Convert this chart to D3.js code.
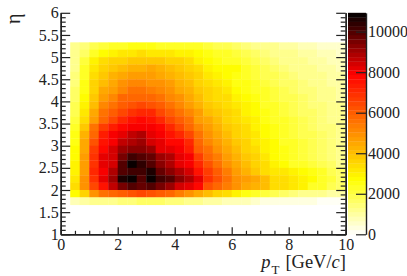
<!DOCTYPE html>
<html>
<head>
<meta charset="utf-8">
<script src="https://d3js.org/d3.v7.min.js"></script>
<style>
html,body { margin:0; background:#fff; }
svg { display:block; }
text { font-family:'Liberation Serif',serif; fill:#222; }
</style>
</head>
<body>
<svg id="chart" width="407" height="276"></svg>
<script>
// counts per bin, top row first (eta 5.33 down to 1.67), pT from 0.33 to 10
var counts = [
[1200,1500,1800,2100,2300,2400,2500,2500,2450,2400,2400,2300,2300,2200,2000,1900,1800,1600,1500,1300,1200,1100,1000,900,800,700,650,600,500],
[1100,1700,2400,2800,3000,3100,3200,3300,3200,3200,3100,3000,2900,2700,2500,2400,2200,2000,1900,1700,1500,1300,1200,1100,1000,900,800,700,650],
[1200,2000,2900,3400,3600,3700,3800,3800,3900,3800,3700,3500,3300,3000,2800,2600,2400,2300,2100,1900,1700,1500,1300,1200,1100,1000,900,800,700],
[1300,2200,3100,3600,3900,4100,4200,4300,4400,4200,4000,3800,3500,3300,3000,2800,2700,2700,2200,2000,1800,1600,1500,1300,1200,1100,1000,900,800],
[1500,2400,3300,3900,4300,4500,4700,4700,4800,4500,4300,4100,3800,3500,3200,3000,2800,2500,2400,2100,1900,1800,1600,1400,1300,1200,1100,1000,900],
[1500,2500,3500,4100,4500,4900,5100,5100,5000,4900,4600,4300,4000,3600,3300,3100,2900,2600,2500,2300,2100,1900,1700,1600,1400,1300,1200,1000,900],
[1600,2600,3700,4400,4800,5200,5500,5500,5400,5200,4900,4500,4200,3900,3500,3400,3100,2800,2600,2400,2200,2000,1800,1700,1500,1400,1200,1100,1000],
[1700,2700,3900,4700,5100,5800,5900,5900,5800,5600,5200,4900,4400,4100,3700,3400,3300,3000,2700,2500,2300,2100,1900,1800,1600,1500,1300,1200,1000],
[1800,2900,4100,5100,5500,6100,6300,6400,6300,6000,5600,5200,4700,4300,3900,3600,3400,3100,2900,2700,2400,2200,2000,1800,1700,1500,1400,1200,1100],
[1900,3100,4400,5500,6000,6500,6800,7100,7000,6500,6000,5500,5100,4600,4100,3900,3600,3300,3000,2800,2500,2300,2100,1900,1700,1600,1400,1300,1100],
[2000,3300,4800,5800,6500,7100,7500,7700,7500,7100,6500,6000,5500,4800,4400,4100,3700,3400,3100,2900,2600,2400,2200,2000,1800,1600,1500,1300,1100],
[2300,3900,5500,6600,7300,7700,7900,8000,7900,7700,7100,6500,5800,5200,4600,4300,3900,3600,3300,3000,2700,2500,2200,2100,1900,1700,1500,1400,1200],
[2500,4200,5900,7300,7900,8100,8700,8800,8300,7900,7600,7000,6400,5500,5000,4500,4100,3700,3400,3100,2800,2600,2300,2100,1900,1800,1600,1400,1200],
[2600,4400,6300,7500,8000,8700,8900,9100,8500,8200,7800,7700,7000,5800,5200,4700,4300,3900,3500,3200,2900,2700,2400,2200,2000,1800,1600,1400,1200],
[2700,4500,6600,7800,8500,9100,9300,9300,9100,8300,8300,7900,7400,6100,5500,4900,4500,4000,3700,3400,3000,2700,2500,2300,2000,1800,1700,1500,1300],
[2800,4600,6800,8100,8500,9500,10100,9900,9700,9100,8900,8200,7900,6600,5700,5300,4700,4200,3800,3500,3100,2800,2600,2300,2100,1900,1700,1500,1300],
[2900,4700,6900,8200,8500,9900,10750,10300,9900,9300,8900,8300,7900,7200,6200,5600,5000,4500,4000,3600,3300,2900,2700,2400,2200,2000,1800,1600,1300],
[3000,4800,7000,7900,8900,9900,10100,10100,10550,9700,9300,8900,8500,7600,6600,6000,5300,4800,4200,3800,3400,3100,3100,2900,2700,2500,2200,1900,1600],
[3100,4900,6800,8100,9000,10500,10730,9900,10730,10100,9900,9300,8900,8100,6900,6300,5600,4900,4600,4400,4000,3400,3300,3100,2900,2700,2400,2000,1700],
[3400,5000,6500,7600,8700,9500,10000,9800,9900,9400,9000,8500,8300,7800,6300,5900,5300,4900,4500,4300,4000,3400,3300,3100,2900,2400,2200,1900,1700],
[2700,3700,5000,5500,5700,6000,6300,6400,6300,6100,5700,5400,5000,4400,4000,3700,3300,2900,2600,2200,2000,1800,1600,1400,1300,1200,1100,1000,900],
[700,900,1100,1200,1300,1400,1500,1700,1700,1600,1500,1400,1300,1200,1000,900,800,700,800,450,400,350,300,280,250,220,200,180,150]
];
var etaTicks = [1,1.5,2,2.5,3,3.5,4,4.5,5,5.5,6];
var ptTicks = [0,2,4,6,8,10];
var zTicks = [0,2000,4000,6000,8000,10000];
var zMax = 10930;
var nBands = 50;
var paletteStops = [0, 2700, 7900, 10930];
var paletteColors = ['#ffffff', '#ffff00', '#ff0000', '#000000'];

var svg = d3.select('#chart');
var x = d3.scaleLinear().domain([0,10]).range([60.7,345.7]);
var y = d3.scaleLinear().domain([1,6]).range([234.3,12.8]);
var z = d3.scaleLinear().domain([0,zMax]).range([234.3,12.8]);
var palette = d3.scaleLinear().domain(paletteStops).range(paletteColors);

// stepped colours like the root palette
function color(v) {
  var k = Math.min(nBands-1, Math.floor(v/zMax*nBands));
  return palette((k+0.5)*zMax/nBands);
}

var binW = 1/3, binH = 1/6, firstCol = 1, topEta = 16/3;

// heat map
var rows = svg.append('g').selectAll('g').data(counts).enter().append('g');
rows.selectAll('rect')
  .data(function(d,i){ return d.map(function(v,j){ return {v:v, i:i, j:j}; }); })
  .enter().append('rect')
  .attr('x', function(d){ return x((d.j+firstCol)*binW); })
  .attr('width', x(binW)-x(0)+0.3)
  .attr('y', function(d){ return y(topEta-d.i*binH); })
  .attr('height', y(0)-y(binH)+0.3)
  .attr('fill', function(d){ return color(d.v); });

// colour bar
var bands = d3.range(nBands);
svg.append('g').selectAll('rect').data(bands).enter().append('rect')
  .attr('x', 348).attr('width', 18)
  .attr('y', function(k){ return z((k+1)*zMax/nBands); })
  .attr('height', z(0)-z(zMax/nBands)+0.3)
  .attr('fill', function(k){ return palette((k+0.5)*zMax/nBands); });

// axes, major and minor go on separately
function minor(lo, hi, step, skip) {
  return d3.range(lo, hi+step/2, step).filter(function(v){
    return Math.abs(v/skip-Math.round(v/skip)) > 1e-6;
  });
}
function style(g) {
  g.selectAll('.tick line').attr('stroke','#222').attr('stroke-width',1.2);
  g.select('.domain').attr('stroke','#222').attr('stroke-width',1.4);
  g.selectAll('text').attr('font-size',16).style('font-family',"'Liberation Serif',serif").attr('fill','#222');
}
svg.append('g').attr('transform','translate(60.7,0)')
  .call(d3.axisLeft(y).tickValues(minor(1,6,0.1,0.5)).tickSizeInner(-5).tickSizeOuter(0).tickFormat('')).call(style);
svg.append('g').attr('transform','translate(60.7,0)')
  .call(d3.axisLeft(y).tickValues(etaTicks).tickSizeInner(-9.5).tickSizeOuter(0).tickPadding(2).tickFormat(function(d){return d;})).call(style);
svg.append('g').attr('transform','translate(345.7,0)')
  .call(d3.axisRight(y).tickValues(minor(1,6,0.1,0.5)).tickSizeInner(-5).tickSizeOuter(0).tickFormat('')).call(style);
svg.append('g').attr('transform','translate(345.7,0)')
  .call(d3.axisRight(y).tickValues(etaTicks).tickSizeInner(-9.5).tickSizeOuter(0).tickFormat('')).call(style);
svg.append('g').attr('transform','translate(0,234.3)')
  .call(d3.axisBottom(x).tickValues(minor(0,10,0.5,2)).tickSizeInner(-3.5).tickSizeOuter(0).tickFormat('')).call(style);
svg.append('g').attr('transform','translate(0,234.3)')
  .call(d3.axisBottom(x).tickValues(ptTicks).tickSizeInner(-7).tickSizeOuter(0).tickPadding(4).tickFormat(function(d){return d;})).call(style);
svg.append('g').attr('transform','translate(366,0)')
  .call(d3.axisRight(z).tickValues(zTicks).tickSizeInner(-10).tickSizeOuter(0).tickPadding(2).tickFormat(function(d){return d;})).call(style);

// titles
var xt = svg.append('text').attr('x',346).attr('y',268).attr('text-anchor','end').attr('font-size',18.5);
xt.append('tspan').attr('font-style','italic').text('p');
xt.append('tspan').attr('font-size',13).attr('dy',6).attr('dx',1).text('T');
xt.append('tspan').attr('dy',-6).attr('dx',6).text('[GeV/');
xt.append('tspan').attr('font-style','italic').text('c');
xt.append('tspan').text(']');
svg.append('text').attr('transform','translate(20,24) rotate(-90)').attr('font-size',20).text('η');
</script>
</body>
</html>
